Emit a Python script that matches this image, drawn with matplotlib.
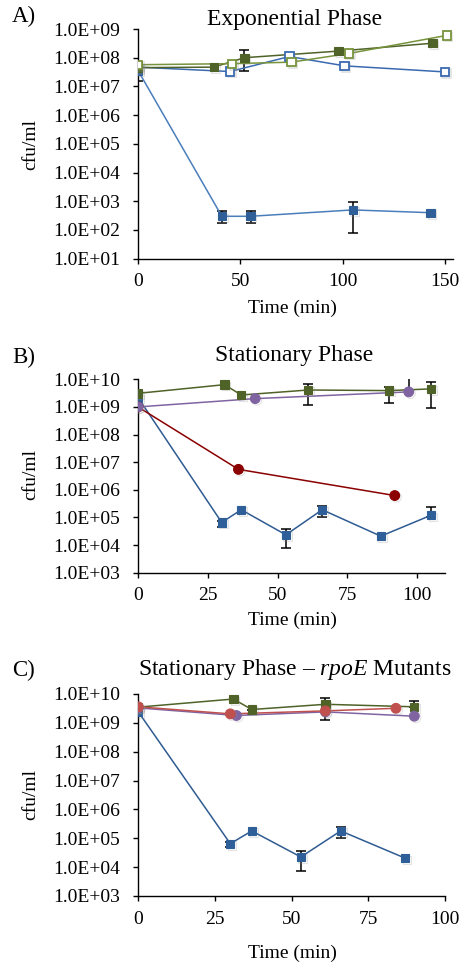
import matplotlib
matplotlib.use("Agg")
import matplotlib.pyplot as plt
import matplotlib.patheffects as pe
from matplotlib.ticker import LogLocator, NullLocator, FuncFormatter
import numpy as np

plt.rcParams['font.family'] = ['Liberation Serif', 'DejaVu Serif']
plt.rcParams['mathtext.fontset'] = 'custom'
plt.rcParams['mathtext.rm'] = 'Liberation Serif'
plt.rcParams['mathtext.it'] = 'Liberation Serif:italic'
plt.rcParams['xtick.labelsize'] = 14
plt.rcParams['ytick.labelsize'] = 14
plt.rcParams['xtick.direction'] = 'out'
plt.rcParams['ytick.direction'] = 'out'
plt.rcParams['xtick.major.size'] = 3.6
plt.rcParams['ytick.major.size'] = 3.6
plt.rcParams['xtick.major.width'] = 1.0
plt.rcParams['ytick.major.width'] = 1.0
plt.rcParams['xtick.major.pad'] = 7
plt.rcParams['ytick.major.pad'] = 9.5

nan = np.nan

# ---- A) exponential phase ----
a_wt_t = [0, 37, 52, 98, 144]
a_wt = [4.5e7, 4.7e7, 1.0e8, 1.7e8, 3.2e8]
a_wt_lo = [nan, nan, 3.4e7, nan, nan]
a_wt_hi = [nan, nan, 1.8e8, nan, nan]

a_wt2_t = [0, 46, 75, 103, 151]
a_wt2 = [5.7e7, 6.2e7, 7.0e7, 1.4e8, 6.0e8]

a_mut_t = [0, 41, 55, 105, 143]
a_mut = [3.6e7, 3.0e2, 3.0e2, 5.0e2, 4.0e2]
a_mut_lo = [1.5e7, 1.7e2, 1.7e2, 8.0e1, nan]
a_mut_hi = [5.3e7, 4.5e2, 4.5e2, 9.5e2, nan]

a_mut2_t = [0, 45, 74, 101, 150]
a_mut2 = [4.7e7, 3.3e7, 1.1e8, 5.2e7, 3.2e7]

# ---- B) stationary phase ----
b_wt_t = [0, 31, 37, 61, 90, 105]
b_wt = [3.1e9, 6.4e9, 2.7e9, 4.1e9, 3.9e9, 4.5e9]
b_wt_lo = [nan, nan, nan, 1.2e9, 1.4e9, 9.3e8]
b_wt_hi = [nan, nan, nan, 6.7e9, 5.1e9, 8.0e9]

b_pur_t = [0, 42, 97]
b_pur = [1.0e9, 2.0e9, 3.5e9]
b_pur_lo = [nan, nan, nan]
b_pur_hi = [nan, nan, 1.2e10]

b_red_t = [0, 36, 92]
b_red = [1.0e9, 5.5e6, 6.2e5]

b_mut_t = [0, 30, 37, 53, 66, 87, 105]
b_mut = [2.2e9, 6.6e4, 1.9e5, 2.35e4, 1.9e5, 2.1e4, 1.2e5]
b_mut_lo = [nan, 4.7e4, nan, 7.6e3, 1.0e5, nan, 1.0e5]
b_mut_hi = [nan, 7.5e4, nan, 3.8e4, 2.6e5, nan, 2.4e5]

# ---- C) stationary phase, rpoE mutants ----
c_wt_t = [0, 31, 37, 61, 90]
c_wt = [3.5e9, 6.7e9, 2.9e9, 4.4e9, 3.6e9]
c_wt_lo = [nan, nan, 2.1e9, 1.25e9, nan]
c_wt_hi = [nan, nan, nan, 7.5e9, 5.9e9]

c_red_t = [0, 30, 61, 84]
c_red = [3.6e9, 2.05e9, 2.6e9, 3.2e9]

c_pur_t = [0, 32, 61, 90]
c_pur = [3.3e9, 1.8e9, 2.4e9, 1.7e9]

c_mut_t = [0, 30, 37, 53, 66, 87]
c_mut = [2.4e9, 6.5e4, 1.8e5, 2.25e4, 1.8e5, 2.05e4]
c_mut_lo = [nan, 5.0e4, nan, 7.4e3, 1.0e5, nan]
c_mut_hi = [nan, 7.5e4, nan, 3.6e4, 2.5e5, nan]

BLUE = '#2f5f98'
BLUE_LINE = '#4a7ebb'
DKGREEN = '#4f6228'
LTGREEN = '#77933c'
DKRED = '#8b0000'
RED = '#c0504d'
PURPLE = '#8064a2'

shadow = [pe.SimpleLineShadow(offset=(1.2, -1.2), shadow_color='#909090', alpha=0.25), pe.Normal()]


def series(ax, t, v, color, marker='s', open_=False, lcolor=None, lo=None, hi=None, ms=6):
    t = np.array(t, float)
    v = np.array(v, float)
    if lo is not None:
        lo = np.array(lo, float)
        hi = np.array(hi, float)
        down = v - np.where(np.isnan(lo), v, lo)
        up = np.where(np.isnan(hi), v, hi) - v
        m = ~(np.isnan(lo) & np.isnan(hi))
        ax.errorbar(t[m], v[m], yerr=[down[m], up[m]], fmt='none', ecolor='black',
                    elinewidth=1.1, capsize=3.5, capthick=1.1, zorder=2)
    ax.plot(t, v, '-', color=lcolor or color, lw=1.1, zorder=3)
    ax.plot(t, v, linestyle='none', marker=marker, ms=ms,
            mfc='white' if open_ else color, mec=color, mew=1.3 if open_ else 0.8,
            zorder=4, path_effects=shadow)


def style(ax, xlim, xticks, ylim):
    ax.set_yscale('log')
    ax.set_xlim(*xlim)
    ax.set_ylim(*ylim)
    ax.set_xticks(xticks)
    ax.set_xticklabels([str(x) for x in xticks], fontsize=14)
    ax.yaxis.set_major_locator(LogLocator(base=10, numticks=20))
    ax.yaxis.set_minor_locator(NullLocator())
    ax.yaxis.set_major_formatter(FuncFormatter(lambda v, p: f"{v:.1E}"))
    for s in ['top', 'right']:
        ax.spines[s].set_visible(False)
    for s in ['left', 'bottom']:
        ax.spines[s].set_linewidth(1.0)


fig = plt.figure(figsize=(4.61, 9.65), dpi=100)
H = 965.0
W = 461.0


def axes_px(l, r, top, bot):
    return fig.add_axes([l / W, 1 - bot / H, (r - l) / W, (bot - top) / H])


axA = axes_px(138, 453, 29, 258.7)
series(axA, a_mut_t, a_mut, BLUE, lcolor=BLUE_LINE, lo=a_mut_lo, hi=a_mut_hi)
series(axA, a_mut2_t, a_mut2, '#3a6ab0', open_=True, lcolor='#3a6ab0')
series(axA, a_wt_t, a_wt, DKGREEN, lo=a_wt_lo, hi=a_wt_hi)
series(axA, a_wt2_t, a_wt2, LTGREEN, open_=True)
style(axA, (0, 154), [0, 50, 100, 150], (1e1, 1e9))

axB = axes_px(138, 445, 379.3, 572.7)
series(axB, b_mut_t, b_mut, BLUE, lcolor='#2e5b92', lo=b_mut_lo, hi=b_mut_hi)
series(axB, b_red_t, b_red, DKRED, marker='o', ms=7)
series(axB, b_wt_t, b_wt, DKGREEN, lo=b_wt_lo, hi=b_wt_hi)
series(axB, b_pur_t, b_pur, PURPLE, marker='o', ms=7, lo=b_pur_lo, hi=b_pur_hi)
style(axB, (0, 110), [0, 25, 50, 75, 100], (1e3, 1e10))

axC = axes_px(138.3, 445, 694, 896)
series(axC, c_mut_t, c_mut, BLUE, lcolor='#2e5b92', lo=c_mut_lo, hi=c_mut_hi)
series(axC, c_wt_t, c_wt, DKGREEN, lo=c_wt_lo, hi=c_wt_hi)
series(axC, c_pur_t, c_pur, PURPLE, marker='o', ms=7)
series(axC, c_red_t, c_red, RED, marker='o', ms=7)
style(axC, (0, 100), [0, 25, 50, 75, 100], (1e3, 1e10))

# panel letters, titles, axis labels
for letter, y in [('A)', 16), ('B)', 357), ('C)', 670)]:
    fig.text(12 / W, 1 - y / H, letter, fontsize=16.5, ha='left', va='center')

fig.text(295 / W, 1 - 20 / H, 'Exponential Phase', fontsize=17, ha='center', va='center')
fig.text(294.5 / W, 1 - 355 / H, 'Stationary Phase', fontsize=17, ha='center', va='center')
fig.text(294.5 / W, 1 - 670 / H, 'Stationary Phase \u2013 $\\it{rpoE}$ Mutants', fontsize=17,
         ha='center', va='center')

for y in [308, 620, 953]:
    fig.text(292 / W, 1 - y / H, 'Time (min)', fontsize=14, ha='center', va='center')
for y in [145, 475, 795]:
    fig.text(31 / W, 1 - y / H, 'cfu/ml', fontsize=14, ha='center', va='center', rotation=90)

fig.savefig('out.png', dpi=100)
